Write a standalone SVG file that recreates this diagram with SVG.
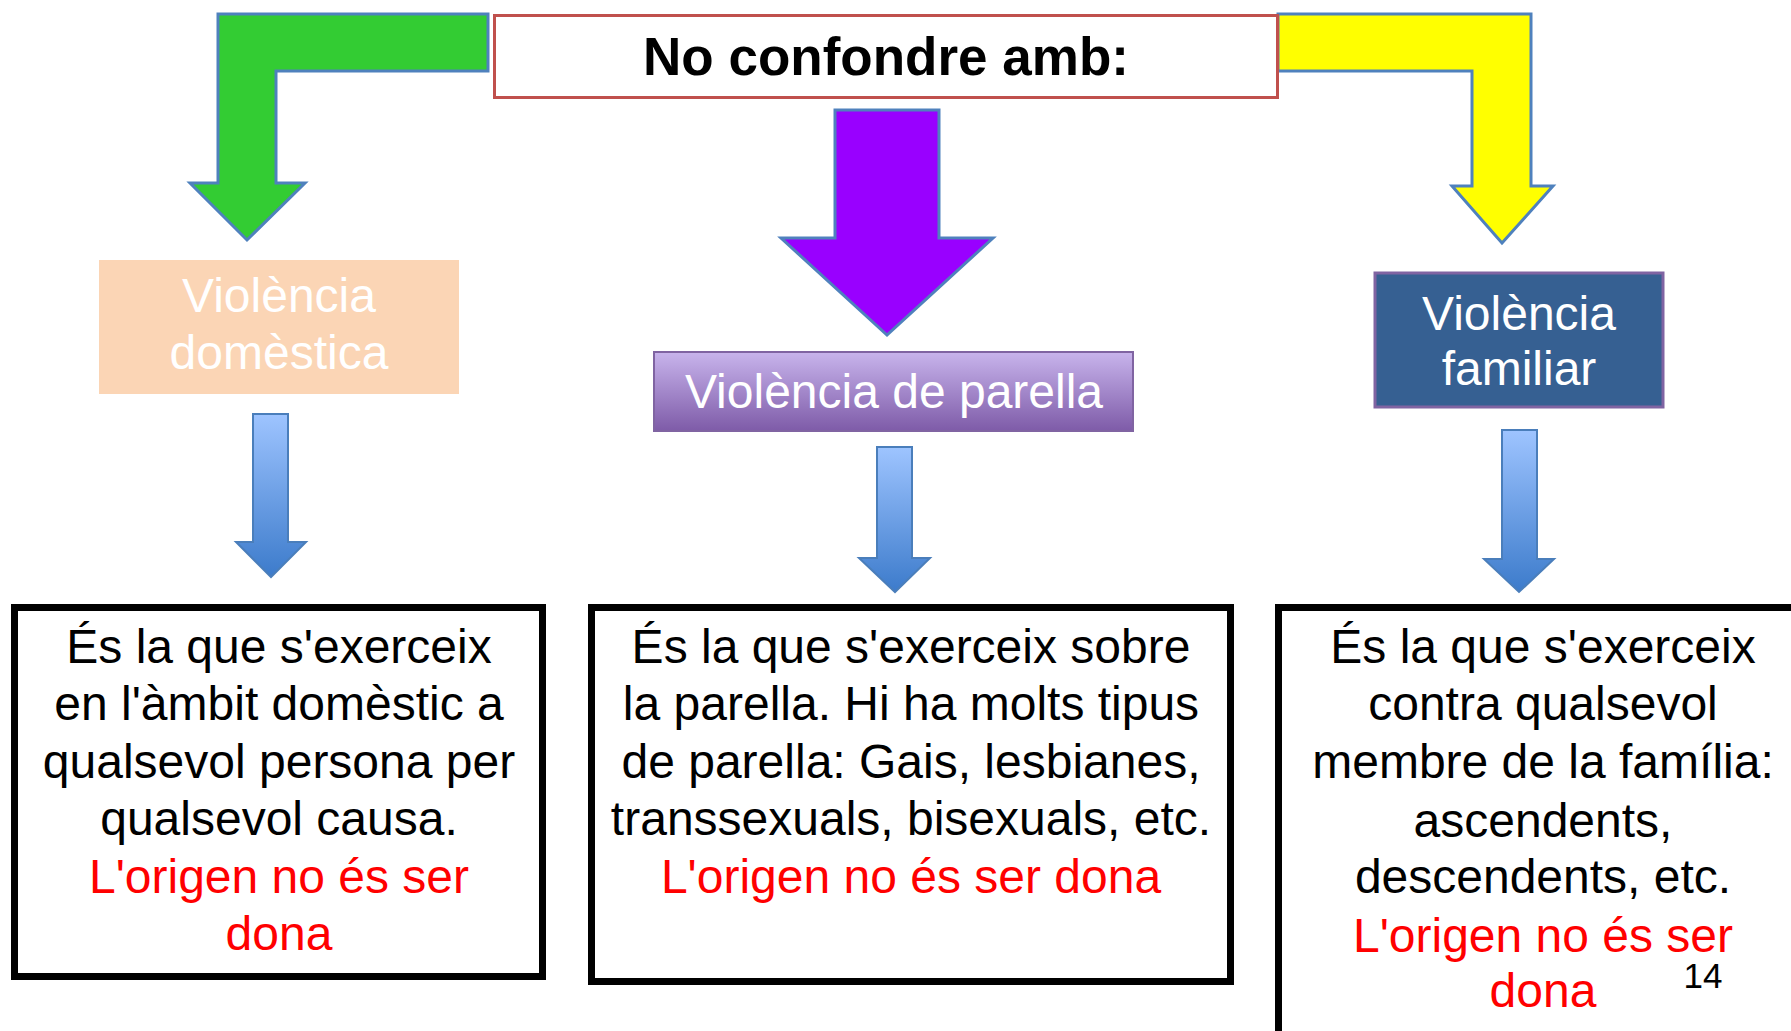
<svg xmlns="http://www.w3.org/2000/svg" width="1791" height="1031" viewBox="0 0 1791 1031">
<defs>
<linearGradient id="gBlue" x1="0" y1="0" x2="0" y2="1">
<stop offset="0" stop-color="#9EC4FF"/>
<stop offset="1" stop-color="#3C7BCB"/>
</linearGradient>
<linearGradient id="gPurple" x1="0" y1="0" x2="0" y2="1">
<stop offset="0" stop-color="#C8B4EC"/>
<stop offset="1" stop-color="#7E5BA8"/>
</linearGradient>
<style>
.big{stroke:#4F81BD;stroke-width:3;stroke-linejoin:miter}
.small{fill:url(#gBlue);stroke:#4A7EBB;stroke-width:2}
.box{fill:#fff;stroke:#000;stroke-width:7}
.t{font-family:"Liberation Sans",Arial,sans-serif;font-size:48px;text-anchor:middle}
.w{fill:#fff}
.k{fill:#000}
.r{fill:#FF0000}
</style>
</defs>
<rect width="1791" height="1031" fill="#fff"/>
<g id="connectors">
<polygon class="big" fill="#33CC33" points="218,14 488,14 488,71 276,71 276,183 305,183 247,240 190,183 218,183"/>
<polygon class="big" fill="#9900FF" points="835,110 939,110 939,238 993,238 887,335 781,238 835,238"/>
<polygon class="big" fill="#FFFF00" points="1278,14 1531,14 1531,186 1553,186 1502,243 1452,186 1472,186 1472,71 1278,71"/>
<polygon class="small" points="253,414 288,414 288,542 306,542 271,577 236,542 253,542"/>
<polygon class="small" points="877,447 912,447 912,558 930,558 895,592 859,558 877,558"/>
<polygon class="small" points="1502,430 1537,430 1537,559 1554,559 1519,592 1484,559 1502,559"/>
</g>
<g id="title">
<rect x="494.5" y="15.5" width="783" height="82" fill="#fff" stroke="#C0504D" stroke-width="3"/>
<text x="886" y="75" font-family="Liberation Sans, Arial, sans-serif" font-size="53" font-weight="bold" text-anchor="middle" fill="#000">No confondre amb:</text>
</g>
<g id="domestica">
<rect x="99" y="260" width="360" height="134" fill="#FBD5B5"/>
<text class="t w" x="279" y="312">Violència</text>
<text class="t w" x="279" y="369">domèstica</text>
</g>
<g id="parella">
<rect x="654" y="352" width="479" height="79" fill="url(#gPurple)" stroke="#8064A2" stroke-width="2"/>
<text class="t w" x="894" y="408">Violència de parella</text>
</g>
<g id="familiar">
<rect x="1375" y="273" width="288" height="134" fill="#366092" stroke="#8064A2" stroke-width="3"/>
<text class="t w" x="1519" y="330">Violència</text>
<text class="t w" x="1519" y="385">familiar</text>
</g>
<g id="desc-domestica">
<rect class="box" x="14.5" y="607.5" width="528" height="369"/>
<text class="t k" x="279" y="663">És la que s'exerceix</text>
<text class="t k" x="279" y="720">en l'àmbit domèstic a</text>
<text class="t k" x="279" y="778">qualsevol persona per</text>
<text class="t k" x="279" y="835">qualsevol causa.</text>
<text class="t r" x="279" y="893">L'origen no és ser</text>
<text class="t r" x="279" y="950">dona</text>
</g>
<g id="desc-parella">
<rect class="box" x="591.5" y="607.5" width="639" height="374"/>
<text class="t k" x="911" y="663">És la que s'exerceix sobre</text>
<text class="t k" x="911" y="720">la parella. Hi ha molts tipus</text>
<text class="t k" x="911" y="778">de parella: Gais, lesbianes,</text>
<text class="t k" x="911" y="835">transsexuals, bisexuals, etc.</text>
<text class="t r" x="911" y="893">L'origen no és ser dona</text>
</g>
<g id="desc-familiar">
<rect class="box" x="1278.5" y="607.5" width="600" height="440"/>
<text class="t k" x="1543" y="663">És la que s'exerceix</text>
<text class="t k" x="1543" y="720">contra qualsevol</text>
<text class="t k" x="1543" y="778">membre de la família:</text>
<text class="t k" x="1543" y="837">ascendents,</text>
<text class="t k" x="1543" y="893">descendents, etc.</text>
<text class="t r" x="1543" y="952">L'origen no és ser</text>
<text class="t r" x="1543" y="1007">dona</text>
<text x="1703" y="988" font-family="Liberation Sans, Arial, sans-serif" font-size="35" text-anchor="middle" fill="#000">14</text>
</g>
</svg>
